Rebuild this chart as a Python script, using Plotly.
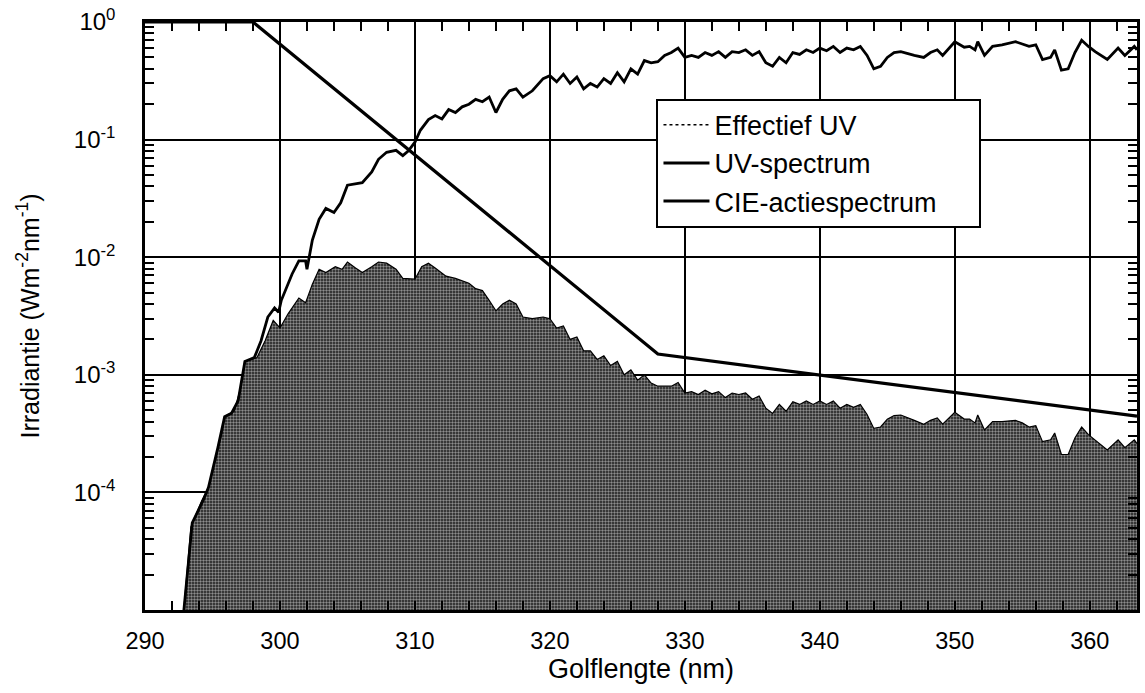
import plotly.graph_objects as go

# ---------------- data ----------------
wl_uv = [292.8, 293.5, 294.3, 294.7, 295.4, 295.9, 296.4, 296.9, 297.4, 298.1,
         298.6, 299.1, 299.6, 299.9, 300.1, 300.9, 301.4, 301.9, 302.0, 302.4,
         302.9, 303.4, 304.0, 304.5, 305.0, 305.6, 306.1, 306.8, 307.3, 307.9,
         308.6, 309.1, 309.5, 310.0, 310.4, 311.0, 311.5, 312.0, 312.5, 313.0,
         313.5, 314.0, 314.5, 315.0, 315.5, 316.0, 316.5, 317.0, 317.5, 318.0,
         318.7, 319.5, 320.0, 320.5, 321.0, 321.5, 322.0, 322.5, 323.0, 323.5,
         324.0, 324.5, 325.0, 325.5, 326.0, 326.5, 327.0, 327.5, 328.0, 328.5,
         329.0, 329.5, 330.0, 330.5, 331.0, 331.5, 332.0, 332.5, 333.0, 333.5,
         334.0, 334.5, 335.0, 335.5, 336.0, 336.5, 337.0, 337.5, 338.0, 338.5,
         339.0, 339.5, 340.0, 340.5, 341.0, 341.5, 342.0, 342.5, 343.0, 343.5,
         344.0, 344.5, 345.0, 345.5, 346.0, 347.0, 347.7, 348.2, 348.7, 349.1,
         350.0, 350.7, 351.1, 351.5, 351.7, 352.2, 352.8, 353.5, 354.5, 355.0,
         355.5, 356.0, 356.5, 357.1, 357.4, 357.9, 358.4, 358.9, 359.4, 359.9,
         360.4, 361.3, 362.1, 362.6, 363.3, 363.5]
uv = [8e-6, 5.5e-5, 8.5e-5, 1.1e-4, 2.4e-4, 4.4e-4, 4.7e-4, 6.0e-4, 1.3e-3, 1.4e-3,
      1.95e-3, 3.1e-3, 3.7e-3, 3.4e-3, 4.3e-3, 7.2e-3, 9.3e-3, 9.3e-3, 7.9e-3, 1.4e-2,
      2.1e-2, 2.6e-2, 2.4e-2, 2.9e-2, 4.1e-2, 4.2e-2, 4.3e-2, 5.3e-2, 6.8e-2, 7.8e-2,
      8.1e-2, 7.3e-2, 8.0e-2, 9.5e-2, 0.12, 0.148, 0.16, 0.15, 0.18, 0.17,
      0.19, 0.20, 0.22, 0.21, 0.23, 0.17, 0.22, 0.26, 0.27, 0.23,
      0.26, 0.33, 0.35, 0.31, 0.36, 0.30, 0.34, 0.27, 0.30, 0.28,
      0.33, 0.30, 0.37, 0.31, 0.40, 0.36, 0.47, 0.45, 0.46, 0.52,
      0.55, 0.60, 0.50, 0.52, 0.50, 0.55, 0.52, 0.56, 0.50, 0.56,
      0.55, 0.58, 0.52, 0.56, 0.45, 0.42, 0.50, 0.45, 0.55, 0.53,
      0.58, 0.55, 0.60, 0.57, 0.62, 0.55, 0.60, 0.58, 0.62, 0.52,
      0.40, 0.42, 0.50, 0.55, 0.56, 0.52, 0.50, 0.55, 0.58, 0.52,
      0.68, 0.61, 0.62, 0.58, 0.68, 0.52, 0.62, 0.64, 0.68, 0.65,
      0.62, 0.64, 0.48, 0.50, 0.58, 0.39, 0.40, 0.55, 0.70, 0.62,
      0.56, 0.48, 0.60, 0.52, 0.62, 0.58]

wl_eff = [292.8, 293.4, 294.2, 294.7, 295.7, 295.9, 296.6, 297.1, 297.4, 298.3,
          298.9, 299.5, 300.0, 300.6, 301.4, 301.9, 302.4, 302.9, 303.4, 304.1,
          304.6, 305.0, 305.6, 306.1, 306.8, 307.3, 307.9, 308.6, 309.1, 310.0,
          310.5, 311.0, 311.5, 312.3, 313.0, 314.0, 314.5, 315.0, 315.5, 316.0,
          316.5, 317.0, 317.5, 318.0, 318.7, 319.5, 320.0, 320.5, 321.0, 321.5,
          322.0, 322.5, 323.0, 323.5, 324.0, 324.5, 325.0, 325.5, 326.0, 326.5,
          327.0, 327.5, 328.0, 329.0, 329.5, 330.0, 330.5, 331.0, 331.5, 332.0,
          332.5, 333.0, 333.5, 334.0, 334.5, 335.0, 335.5, 336.0, 336.5, 337.0,
          337.5, 338.0, 338.5, 339.0, 339.5, 340.0, 340.5, 341.0, 341.5, 342.0,
          342.5, 343.0, 343.5, 344.0, 344.5, 345.0, 345.5, 346.0, 347.0, 347.7,
          348.2, 348.7, 349.1, 350.0, 350.7, 351.1, 351.5, 351.7, 352.2, 352.8,
          353.5, 354.5, 355.0, 355.5, 356.0, 356.5, 357.1, 357.4, 357.9, 358.4,
          358.9, 359.4, 359.9, 360.4, 361.3, 362.1, 362.6, 363.3, 363.5]
eff = [8e-6, 5.1e-5, 8.5e-5, 1.1e-4, 3.2e-4, 4.4e-4, 4.9e-4, 7.8e-4, 1.3e-3, 1.4e-3,
       1.95e-3, 2.9e-3, 2.5e-3, 3.3e-3, 4.5e-3, 4.1e-3, 5.9e-3, 7.9e-3, 7.4e-3, 8.3e-3,
       7.9e-3, 9.1e-3, 8.1e-3, 7.4e-3, 8.3e-3, 9.1e-3, 8.9e-3, 7.9e-3, 6.6e-3, 6.5e-3,
       8.3e-3, 8.9e-3, 8.1e-3, 6.9e-3, 6.6e-3, 6.0e-3, 5.4e-3, 5.2e-3, 4.3e-3, 3.5e-3,
       4.0e-3, 4.3e-3, 4.0e-3, 3.1e-3, 3.0e-3, 3.1e-3, 3.0e-3, 2.5e-3, 2.6e-3, 2.0e-3,
       2.1e-3, 1.6e-3, 1.6e-3, 1.35e-3, 1.45e-3, 1.2e-3, 1.3e-3, 1.0e-3, 1.1e-3, 0.9e-3,
       1.0e-3, 0.85e-3, 0.8e-3, 0.80e-3, 0.86e-3, 0.70e-3, 0.72e-3, 0.68e-3, 0.74e-3, 0.69e-3,
       0.72e-3, 0.64e-3, 0.70e-3, 0.68e-3, 0.70e-3, 0.62e-3, 0.66e-3, 0.52e-3, 0.47e-3, 0.56e-3,
       0.49e-3, 0.59e-3, 0.56e-3, 0.60e-3, 0.56e-3, 0.60e-3, 0.56e-3, 0.60e-3, 0.52e-3, 0.56e-3,
       0.53e-3, 0.56e-3, 0.46e-3, 0.35e-3, 0.36e-3, 0.42e-3, 0.45e-3, 0.455e-3, 0.41e-3, 0.38e-3,
       0.41e-3, 0.43e-3, 0.38e-3, 0.48e-3, 0.42e-3, 0.42e-3, 0.39e-3, 0.455e-3, 0.34e-3, 0.40e-3,
       0.40e-3, 0.41e-3, 0.39e-3, 0.36e-3, 0.37e-3, 0.27e-3, 0.28e-3, 0.32e-3, 0.21e-3, 0.21e-3,
       0.29e-3, 0.36e-3, 0.31e-3, 0.28e-3, 0.23e-3, 0.28e-3, 0.24e-3, 0.28e-3, 0.26e-3]

wl_cie = [290.0, 298.0, 328.0, 363.5]
cie = [1.0, 1.0, 1.5e-3, 4.45e-4]

x_ticks = [290, 300, 310, 320, 330, 340, 350, 360]
x_ticktext = ["290", "300", "310", "320", "330", "340", "350", "360"]
y_ticks = [1.0, 1e-1, 1e-2, 1e-3, 1e-4]
y_ticktext = ["10<sup>0</sup>", "10<sup>-1</sup>", "10<sup>-2</sup>",
              "10<sup>-3</sup>", "10<sup>-4</sup>"]
names = ["Effectief UV", "UV-spectrum", "CIE-actiespectrum"]

x_minor = list(range(292, 364, 2))
y_minor = [m * 10.0 ** e for e in range(-5, 0) for m in range(2, 10)]

FONT = "Liberation Sans, Arial, Helvetica, sans-serif"
PAD = "\u00a0" * 5   # right-hand white space inside the legend box

fig = go.Figure()

# baseline for the filled area (below the visible range)
fig.add_trace(go.Scatter(x=[wl_eff[0], wl_eff[-1]], y=[1e-7, 1e-7], mode="lines",
                         line=dict(width=0, color="black"), showlegend=False,
                         hoverinfo="skip"))
fig.add_trace(go.Scatter(x=wl_eff, y=eff, mode="lines", fill="tonexty",
                         fillcolor="#555555",
                         fillpattern=dict(shape=".", bgcolor="#1a1a1a", fgcolor="#ffffff",
                                          size=3, solidity=0.5),
                         line=dict(color="black", width=1.2), showlegend=False))
fig.add_trace(go.Scatter(x=wl_uv, y=uv, mode="lines", name=names[1],
                         line=dict(color="black", width=2.8), showlegend=False))
fig.add_trace(go.Scatter(x=wl_cie, y=cie, mode="lines", name=names[2],
                         line=dict(color="black", width=3.2), showlegend=False))

# legend-only entries
fig.add_trace(go.Scatter(x=[None], y=[None], mode="lines", name=names[0] + PAD,
                         line=dict(color="black", width=1.5, dash="dot")))
fig.add_trace(go.Scatter(x=[None], y=[None], mode="lines", name=names[1] + PAD,
                         line=dict(color="black", width=3)))
fig.add_trace(go.Scatter(x=[None], y=[None], mode="lines", name=names[2] + PAD,
                         line=dict(color="black", width=3)))

fig.update_layout(
    width=1145, height=693,
    margin=dict(l=145, r=5, t=20, b=83),
    paper_bgcolor="white", plot_bgcolor="white",
    font=dict(family=FONT, size=23.5, color="black"),
    showlegend=True,
    legend=dict(x=0.5156, y=0.8695, xanchor="left", yanchor="top",
                traceorder="normal",
                bgcolor="white", bordercolor="black", borderwidth=2,
                font=dict(family=FONT, size=27, color="black"),
                tracegroupgap=0, itemwidth=46),
    xaxis=dict(range=[290, 363.5], tickmode="array", tickvals=x_ticks, ticktext=x_ticktext,
               showgrid=True, gridcolor="black", gridwidth=2,
               showline=True, linecolor="black", linewidth=2.5, mirror="ticks",
               ticks="", ticklabelstandoff=8, zeroline=False,
               tickfont=dict(size=23.5),
               minor=dict(tickvals=x_minor, ticks="inside", ticklen=9, tickwidth=2,
                          tickcolor="black", showgrid=False),
               title=dict(text="Golflengte (nm)", font=dict(size=27), standoff=4)),
    yaxis=dict(type="log", range=[-5, 0], tickmode="array", tickvals=y_ticks,
               ticktext=y_ticktext,
               showgrid=True, gridcolor="black", gridwidth=2,
               showline=True, linecolor="black", linewidth=2.5, mirror="ticks",
               ticks="", ticklabelstandoff=22, zeroline=False,
               tickfont=dict(size=24),
               minor=dict(tickvals=y_minor, ticks="inside", ticklen=9, tickwidth=2,
                          tickcolor="black", showgrid=False),
               title=dict(text="Irradiantie (Wm<sup>-2</sup>nm<sup>-1</sup>)",
                          font=dict(size=25), standoff=28)),
)

fig.write_html("out.html")
